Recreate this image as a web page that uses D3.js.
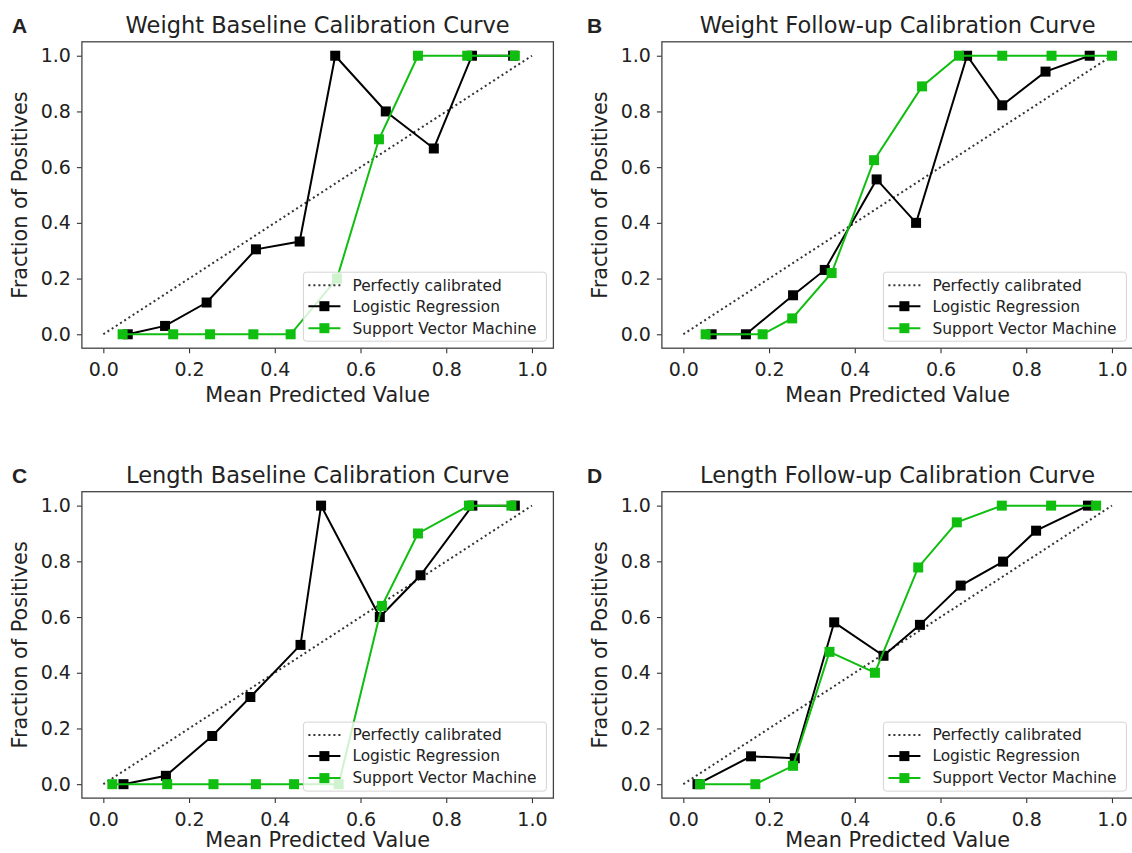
<!DOCTYPE html>
<html>
<head>
<meta charset="utf-8">
<script src="https://cdn.jsdelivr.net/npm/d3@7"></script>
<style>
  body { margin: 0; background: #fff; }
  text { font-family: "DejaVu Sans", sans-serif; fill: #222; }
</style>
</head>
<body>
<div id="view"></div>
<script>
// calibration curve data
var ticks = [0, 0.2, 0.4, 0.6, 0.8, 1.0];
var letters = ["A", "B", "C", "D"];
var titles = ["Weight Baseline Calibration Curve", "Weight Follow-up Calibration Curve",
              "Length Baseline Calibration Curve", "Length Follow-up Calibration Curve"];
var legendLabels = ["Perfectly calibrated", "Logistic Regression", "Support Vector Machine"];

// A - weight baseline
var lrMeanA = [0.057, 0.144, 0.241, 0.356, 0.458, 0.541, 0.659, 0.771, 0.860, 0.956];
var lrFracA = [0, 0.03, 0.114, 0.305, 0.333, 1.0, 0.8, 0.667, 1.0, 1.0];
var svmMeanA = [0.045, 0.163, 0.249, 0.350, 0.437, 0.545, 0.643, 0.734, 0.849, 0.960];
var svmFracA = [0, 0, 0, 0, 0, 0.2, 0.7, 1.0, 1.0, 1.0];

// B - weight follow-up
var lrMeanB = [0.066, 0.146, 0.256, 0.330, 0.451, 0.543, 0.662, 0.744, 0.845, 0.948];
var lrFracB = [0, 0, 0.14, 0.231, 0.556, 0.4, 1.0, 0.822, 0.943, 1.0];
var svmMeanB = [0.052, 0.185, 0.254, 0.346, 0.445, 0.557, 0.643, 0.744, 0.859, 1.0];
var svmFracB = [0, 0, 0.057, 0.22, 0.625, 0.89, 1.0, 1.0, 1.0, 1.0];

// C - length baseline
var lrMeanC = [0.047, 0.146, 0.254, 0.343, 0.460, 0.508, 0.645, 0.740, 0.861, 0.960];
var lrFracC = [0, 0.03, 0.173, 0.313, 0.5, 1.0, 0.6, 0.75, 1.0, 1.0];
var svmMeanC = [0.021, 0.149, 0.257, 0.356, 0.445, 0.549, 0.650, 0.734, 0.853, 0.952];
var svmFracC = [0, 0, 0, 0, 0, 0, 0.64, 0.9, 1.0, 1.0];

// D - length follow-up
var lrMeanD = [0.033, 0.158, 0.260, 0.352, 0.467, 0.552, 0.647, 0.746, 0.823, 0.944];
var lrFracD = [0, 0.1, 0.093, 0.581, 0.461, 0.572, 0.713, 0.799, 0.91, 1.0];
var svmMeanD = [0.039, 0.168, 0.256, 0.341, 0.447, 0.548, 0.638, 0.743, 0.858, 0.963];
var svmFracD = [0, 0, 0.066, 0.475, 0.4, 0.778, 0.94, 1.0, 1.0, 1.0];

var lrMeans = [lrMeanA, lrMeanB, lrMeanC, lrMeanD];
var lrFracs = [lrFracA, lrFracB, lrFracC, lrFracD];
var svmMeans = [svmMeanA, svmMeanB, svmMeanC, svmMeanD];
var svmFracs = [svmFracA, svmFracB, svmFracC, svmFracD];

var green = "#10be10";
var W = 1132, H = 853;
var plotW = 471.5, plotH = 306.4;
var lefts = [81.9, 661.9], tops = [41.8, 491.7];
var xlabelGap = [54, 49]; // bottom row sits on the page edge

var svg = d3.select("#view").append("svg")
	.attr("width", W)
	.attr("height", H);

function zipPts(xs, ys){
	return xs.map(function(d, i){ return [d, ys[i]]; });
}

function panel(k){
	var row = Math.floor(k / 2);
	var ox = lefts[k % 2], oy = tops[row];
	var g = svg.append("g").attr("transform", "translate(" + ox + "," + oy + ")");
	var x = d3.scaleLinear().domain([-0.05, 1.05]).range([0, plotW]);
	var y = d3.scaleLinear().domain([-0.05, 1.05]).range([plotH, 0]);

	// axes
	var xa = g.append("g").attr("transform", "translate(0," + plotH + ")")
		.call(d3.axisBottom(x).tickValues(ticks).tickFormat(d3.format(".1f")).tickSizeOuter(0).tickSize(5).tickPadding(6));
	var ya = g.append("g")
		.call(d3.axisLeft(y).tickValues(ticks).tickFormat(d3.format(".1f")).tickSizeOuter(0).tickSize(5).tickPadding(6));
	[xa, ya].forEach(function(a){
		a.select(".domain").remove();
		a.selectAll("line").attr("stroke", "#333").attr("stroke-width", 1.1);
		a.selectAll("text").style("font-size", "19px").attr("fill", "#222");
	});
	xa.selectAll("text").attr("dy", "0.9em");

	var line = d3.line().x(function(d){ return x(d[0]); }).y(function(d){ return y(d[1]); });

	// perfectly calibrated
	g.append("path").datum([[0, 0], [1, 1]])
		.attr("d", line)
		.attr("fill", "none")
		.attr("stroke", "#333")
		.attr("stroke-width", 2)
		.attr("stroke-dasharray", "2,3");

	var series = [
		{pts: zipPts(lrMeans[k], lrFracs[k]), color: "#000"},
		{pts: zipPts(svmMeans[k], svmFracs[k]), color: green}
	];
	series.forEach(function(s){
		g.append("path").datum(s.pts)
			.attr("d", line)
			.attr("fill", "none")
			.attr("stroke", s.color)
			.attr("stroke-width", 2);
		g.selectAll(null).data(s.pts).enter().append("rect")
			.attr("x", function(d){ return x(d[0]) - 5; })
			.attr("y", function(d){ return y(d[1]) - 5; })
			.attr("width", 10)
			.attr("height", 10)
			.attr("fill", s.color);
	});

	// frame
	g.append("rect")
		.attr("width", plotW).attr("height", plotH)
		.attr("fill", "none").attr("stroke", "#444").attr("stroke-width", 1.3);

	// legend
	var lw = 243, lh = 69;
	var lg = g.append("g").attr("transform", "translate(" + (plotW - 7 - lw) + "," + (plotH - 7 - lh) + ")");
	lg.append("rect").attr("width", lw).attr("height", lh).attr("rx", 3)
		.attr("fill", "#fff").attr("fill-opacity", 0.8)
		.attr("stroke", "#d4d4d4").attr("stroke-width", 1);
	var rowY = [13, 34, 56];
	legendLabels.forEach(function(t, i){
		var ry = rowY[i];
		var col = i == 2 ? green : "#000";
		var seg = lg.append("line").attr("x1", 5).attr("x2", 37).attr("y1", ry).attr("y2", ry)
			.attr("stroke", i == 0 ? "#333" : col).attr("stroke-width", 2);
		if (i == 0) seg.attr("stroke-dasharray", "2,3");
		else lg.append("rect").attr("x", 16).attr("y", ry - 5).attr("width", 10).attr("height", 10).attr("fill", col);
		lg.append("text").attr("x", 49).attr("y", ry).attr("dy", "0.35em")
			.style("font-size", "15.4px").text(t);
	});

	// labels
	g.append("text").attr("x", plotW / 2).attr("y", -9)
		.attr("text-anchor", "middle").style("font-size", "22.5px").text(titles[k]);
	g.append("text").attr("x", plotW / 2).attr("y", plotH + xlabelGap[row])
		.attr("text-anchor", "middle").style("font-size", "20.8px").text("Mean Predicted Value");
	g.append("text").attr("transform", "translate(" + (-55) + "," + (plotH / 2) + ") rotate(-90)")
		.attr("text-anchor", "middle").style("font-size", "20.8px").text("Fraction of Positives");
	g.append("text").attr("x", ox === lefts[0] ? -70 : -75).attr("y", -9)
		.style("font-family", "'Liberation Sans', Arial, sans-serif").style("font-weight", "bold")
		.style("font-size", "21px").attr("fill", "#000").text(letters[k]);
}

for (var k = 0; k < 4; k++) panel(k);
</script>
</body>
</html>
